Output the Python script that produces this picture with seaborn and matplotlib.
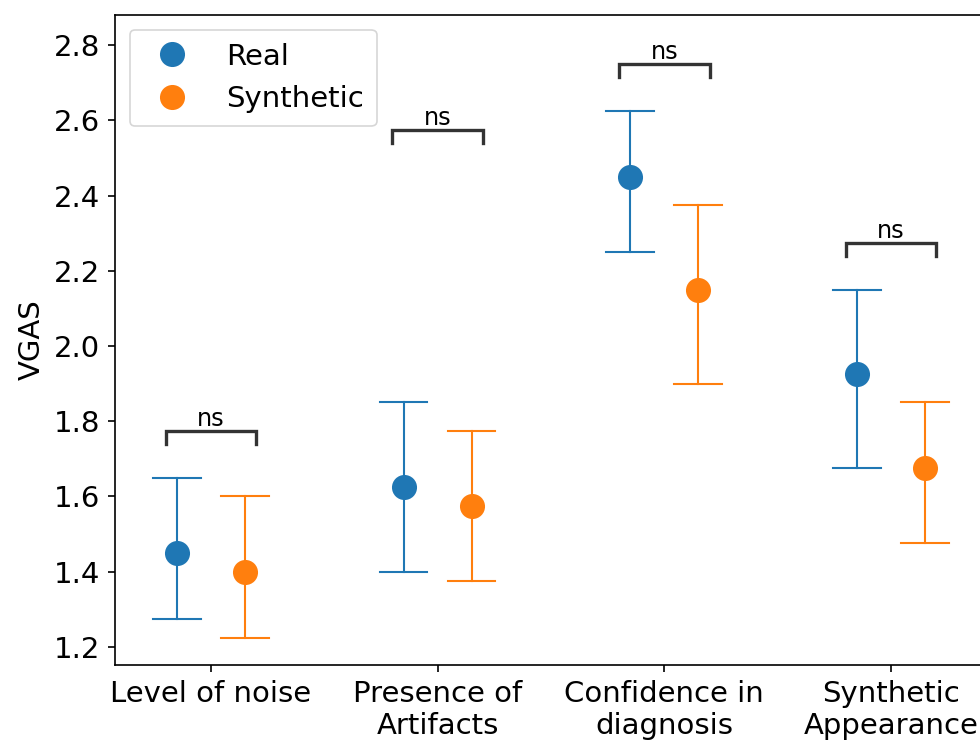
import numpy as np
import pandas as pd
import seaborn as sns
import matplotlib.pyplot as plt

categories = ["Level of noise", "Presence of\nArtifacts", "Confidence in\ndiagnosis", "Synthetic\nAppearance"]
groups = ["Real", "Synthetic"]

real_mean = [1.45, 1.625, 2.45, 1.925]
real_low = [1.275, 1.40, 2.25, 1.675]
real_high = [1.65, 1.85, 2.625, 2.15]

synth_mean = [1.40, 1.575, 2.15, 1.675]
synth_low = [1.225, 1.375, 1.90, 1.475]
synth_high = [1.60, 1.775, 2.375, 1.85]

# significance brackets: height of bracket per category
bracket_y = [1.775, 2.575, 2.75, 2.275]
bracket_text = ["ns", "ns", "ns", "ns"]


def main():
    plt.rcParams['font.family'] = ['DejaVu Sans']

    # long table: low / mean / high per group, median = mean, min/max = CI
    rows = []
    for g, lo, mu, hi in [("Real", real_low, real_mean, real_high),
                          ("Synthetic", synth_low, synth_mean, synth_high)]:
        for i, cat in enumerate(categories):
            for v in (lo[i], mu[i], hi[i]):
                rows.append({"Category": cat, "Group": g, "VGAS": v})
    data = pd.DataFrame(rows)

    fig = plt.figure(figsize=(980 / 150, 741 / 150), dpi=150)
    ax = fig.add_axes([0.1173, 0.1026, 0.92, 0.8772])

    sns.pointplot(data=data, x="Category", y="VGAS", hue="Group",
                  order=categories, hue_order=groups,
                  estimator=np.median, errorbar=lambda x: (np.min(x), np.max(x)),
                  dodge=0.3, linestyle='none', capsize=0.21,
                  palette=['#1f77b4', '#ff7f0e'], markersize=10,
                  err_kws={'linewidth': 1.0}, ax=ax)

    for i, (yb, txt) in enumerate(zip(bracket_y, bracket_text)):
        h = 0.035
        ax.plot([i - 0.2, i - 0.2, i + 0.2, i + 0.2], [yb - h, yb, yb, yb - h],
                color='#333333', linewidth=1.6, solid_joinstyle='miter')
        ax.text(i, yb, txt, ha='center', va='bottom', fontsize=11.5)

    ax.set_xlim(-0.423, 3.554)
    ax.set_ylim(1.152, 2.88)
    ax.set_yticks([1.2, 1.4, 1.6, 1.8, 2.0, 2.2, 2.4, 2.6, 2.8])
    ax.tick_params(labelsize=14)
    ax.set_xlabel("")
    ax.set_ylabel("VGAS", fontsize=14)

    leg = ax.legend(loc='upper left', fontsize=14, handletextpad=0.85,
                    borderpad=0.45)
    leg.get_frame().set_linewidth(0.8)

    fig.savefig('out.png', dpi=150)


if __name__ == '__main__':
    main()
